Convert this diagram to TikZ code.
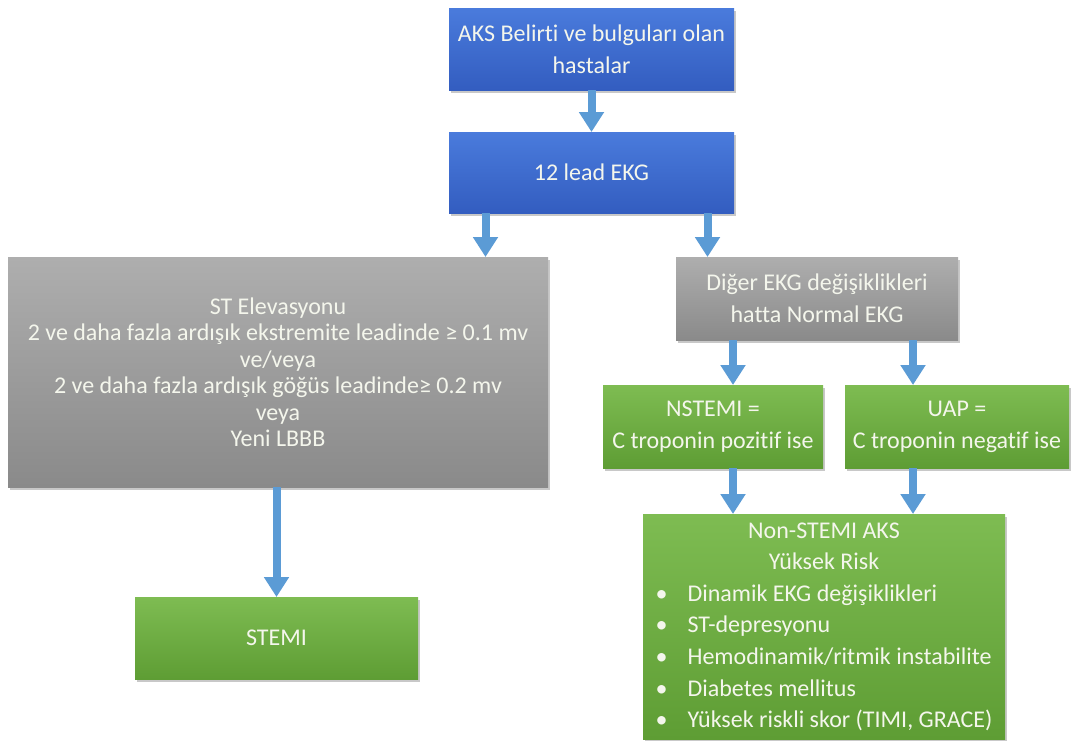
\documentclass[tikz,border=0pt]{standalone}
\usepackage{fontspec}
\setmainfont{Carlito}[Ligatures=NoCommon]
\usetikzlibrary{arrows.meta,shadows}
\definecolor{blueT}{HTML}{4A7BDC}
\definecolor{blueB}{HTML}{335DC0}
\definecolor{grayT}{HTML}{AEAEAE}
\definecolor{grayB}{HTML}{8A8A8A}
\definecolor{greenT}{HTML}{7EBC52}
\definecolor{greenB}{HTML}{5E9D34}
\definecolor{arrowc}{HTML}{5B9BD5}
\definecolor{txt}{HTML}{F4F6EC}
\tikzset{
  box/.style={inner sep=0pt, outer sep=0pt, anchor=north west, align=center, text=txt,
    font=\fontsize{24}{32}\selectfont,
    drop shadow={shadow xshift=2pt, shadow yshift=-3pt, opacity=0.3, fill=black!70}},
  bluebox/.style={box, top color=blueT, bottom color=blueB},
  graybox/.style={box, top color=grayT, bottom color=grayB},
  greenbox/.style={box, top color=greenT, bottom color=greenB},
  flow/.style={draw=arrowc, line width=8pt, -{Triangle[width=24pt,length=20pt]}}
}
\begin{document}
\begin{tikzpicture}[x=1pt,y=-1pt]
\useasboundingbox (0,0) rectangle (1074,740);
\fill[white] (0,0) rectangle (1074,740);

\node[bluebox, minimum width=285pt, minimum height=82pt] (aks) at (449,8)
  {AKS Belirti ve bulguları olan\\hastalar};
\node[bluebox, minimum width=285pt, minimum height=81pt] (ekg) at (449,132)
  {12 lead EKG};
\node[graybox, minimum width=540pt, minimum height=230pt, font=\fontsize{24}{26.5}\selectfont] (st) at (8,257)
  {ST Elevasyonu\\
   2 ve daha fazla ardışık ekstremite leadinde ≥ 0.1 mv\\
   ve/veya\\
   2 ve daha fazla ardışık göğüs leadinde≥ 0.2 mv\\
   veya\\
   Yeni LBBB};
\node[greenbox, minimum width=283pt, minimum height=82pt] (stemi) at (135,597)
  {STEMI};
\node[graybox, minimum width=282pt, minimum height=83pt] (diger) at (676,257)
  {Diğer EKG değişiklikleri\\hatta Normal EKG};
\node[greenbox, minimum width=220pt, minimum height=83pt] (nstemi) at (603,385)
  {NSTEMI =\\C troponin pozitif ise};
\node[greenbox, minimum width=224pt, minimum height=83pt] (uap) at (845,385)
  {UAP =\\C troponin negatif ise};
\node[greenbox, minimum width=362pt, minimum height=225pt, font=\fontsize{24}{31.6}\selectfont] (nsa) at (643,514)
  {\begin{tabular}{@{}l@{\hspace{20pt}}l@{}}
   \multicolumn{2}{c}{Non-STEMI AKS}\\
   \multicolumn{2}{c}{Yüksek Risk}\\
   •&Dinamik EKG değişiklikleri\\
   •&ST-depresyonu\\
   •&Hemodinamik/ritmik instabilite\\
   •&Diabetes mellitus\\
   •&Yüksek riskli skor (TIMI, GRACE)
   \end{tabular}};

\draw[flow] (aks.south) -- (ekg.north);
\draw[flow] ([xshift=-106pt]ekg.south) -- ([xshift=-106pt]ekg.south |- st.north);
\draw[flow] ([xshift=116pt]ekg.south) -- ([xshift=116pt]ekg.south |- diger.north);
\draw[flow] (st.south -| stemi.north) -- (stemi.north);
\draw[flow] ([xshift=-84pt]diger.south) -- ([xshift=-84pt]diger.south |- nstemi.north);
\draw[flow] ([xshift=96pt]diger.south) -- ([xshift=96pt]diger.south |- uap.north);
\draw[flow] ([xshift=20pt]nstemi.south) -- ([xshift=20pt]nstemi.south |- nsa.north);
\draw[flow] ([xshift=-44pt]uap.south) -- ([xshift=-44pt]uap.south |- nsa.north);
\end{tikzpicture}
\end{document}
